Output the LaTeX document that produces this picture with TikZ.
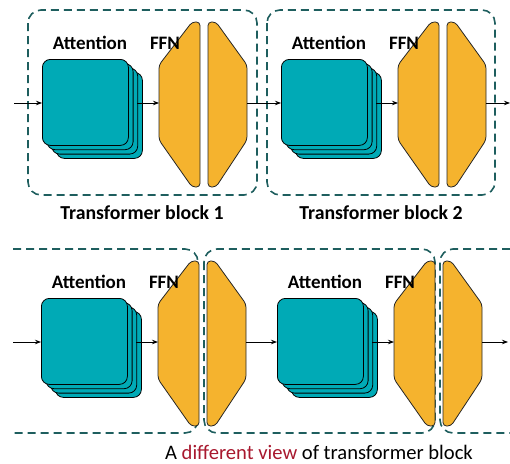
\documentclass[tikz,border=0pt]{standalone}
\usepackage{fontspec}
\setmainfont{Carlito}
\usetikzlibrary{arrows.meta}
\definecolor{attc}{HTML}{00AAB6}
\definecolor{ffnc}{HTML}{F5B32E}
\definecolor{dashc}{HTML}{1E5E5E}
\definecolor{myred}{HTML}{A8182E}
\tikzset{
  attbox/.style={draw=black, line width=0.8pt, fill=attc, rounded corners=8pt,
    minimum width=86pt, minimum height=86pt, inner sep=0pt, anchor=north west},
  ffnbox/.style={draw=black!85, line width=0.8pt, fill=ffnc, rounded corners=3.5pt},
  blockline/.style={draw=dashc, line width=1.6pt, dash pattern=on 8pt off 5pt, rounded corners=13pt},
  conn/.style={-{Stealth[length=6pt,width=4.5pt]}, line width=0.8pt},
  lbl/.style={font=\bfseries\fontsize{19}{19}\selectfont, inner sep=0pt},
  blbl/.style={font=\bfseries\fontsize{19.8}{20}\selectfont, inner sep=0pt},
  captext/.style={font=\fontsize{20.6}{21}\selectfont, inner sep=0pt},
}
% #1 = x of attention front, #2 = y of attention top, #3 = name prefix
\newcommand\tfunit[3]{%
  \node[attbox] at (#1+14,#2+13) {};
  \node[attbox] at (#1+9.3,#2+8.7) {};
  \node[attbox] (#3mid) at (#1+4.7,#2+4.3) {};
  \node[attbox] (#3att) at (#1,#2) {};
  \path[ffnbox] (#1+117,#2+6) -- (#1+150,#2-37) -- (#1+158,#2-37) -- (#1+158,#2+128)
     -- (#1+150,#2+128) -- (#1+117,#2+81) -- cycle;
  \path[ffnbox] (#1+166,#2-37) -- (#1+174,#2-37) -- (#1+205,#2+6) -- (#1+205,#2+81)
     -- (#1+174,#2+128) -- (#1+166,#2+128) -- cycle;
  \coordinate (#3in) at (#1,#2+44);
  \coordinate (#3attout) at (#1+9.3+86,#2+44);
  \coordinate (#3ffnin) at (#1+117,#2+44);
  \coordinate (#3out) at (#1+205,#2+44);
  \node[lbl] (#3lblA) at (#1+48,#2-16) {Attention};
  \node[lbl] (#3lblF) at (#1+123,#2-16) {FFN};
  \draw[conn] (#3attout) -- (#3ffnin);
}
\begin{document}
\begin{tikzpicture}[x=1pt,y=-1pt]
\useasboundingbox (0,0) rectangle (510,463);
% top row
\draw[blockline] (28,10) rectangle (257,195);
\draw[blockline] (267,10) rectangle (495,195);
\tfunit{42}{59}{a}
\tfunit{281}{59}{b}
\coordinate (ain0) at (14,103);
\coordinate (bout0) at (510,103);
\draw[conn] (ain0) -- (ain);
\draw[conn] (aout) -- (bin);
\draw[conn] (bout) -- (bout0);
\node[blbl] (t1) at (142,213) {Transformer block 1};
\node[blbl] (t2) at (381,213) {Transformer block 2};
% bottom row
\draw[blockline] (13,249) -| (198,433) -- (13,433);
\draw[blockline] (204,249) rectangle (435,433);
\draw[blockline] (510,249) -| (440,433) -- (510,433);
\tfunit{41}{298}{c}
\tfunit{277}{298}{d}
\coordinate (cin0) at (13,342);
\coordinate (dout0) at (508,342);
\draw[conn] (cin0) -- (cin);
\draw[conn] (cout) -- (din);
\draw[conn] (dout) -- (dout0);
\node[captext] (caption) at (319,452) {A \textcolor{myred}{different view} of transformer block};
\end{tikzpicture}
\end{document}
